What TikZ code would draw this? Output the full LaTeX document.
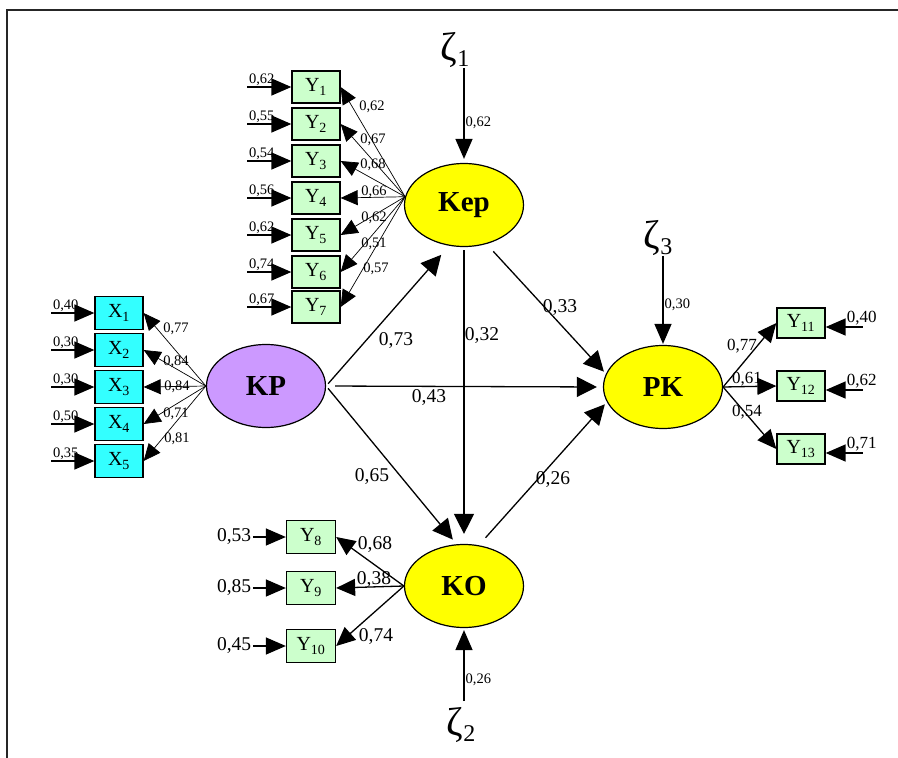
\documentclass[tikz,border=0pt]{standalone}
\usepackage{fontspec}
\setmainfont{Liberation Serif}
\usepackage{tikz}
\usetikzlibrary{arrows.meta,positioning,calc,shapes.geometric}
\definecolor{latyellow}{RGB}{255,255,0}
\definecolor{kplilac}{RGB}{204,153,255}
\definecolor{ygreen}{RGB}{204,255,204}
\definecolor{xcyan}{RGB}{51,255,255}

\begin{document}
\begin{tikzpicture}[x=1pt,y=-1pt,
  latent/.style={draw,ellipse,line width=1.2pt,minimum width=119pt,minimum height=83pt,
    inner sep=0pt,font=\fontsize{29}{30}\selectfont\bfseries},
  obs/.style={draw,line width=1.3pt,fill=ygreen,minimum width=48pt,minimum height=32pt,
    inner sep=0pt,font=\fontsize{20}{20}\selectfont},
  xobs/.style={obs,fill=xcyan,minimum height=33pt},
  slbl/.style={inner sep=1pt,font=\fontsize{14.5}{14.5}\selectfont},
  rlbl/.style={inner sep=1pt,font=\fontsize{17}{17}\selectfont},
  mlbl/.style={inner sep=1pt,font=\fontsize{19.5}{19.5}\selectfont},
  zeta/.style={inner sep=0pt,font=\fontsize{40}{40}\selectfont},
  errarr/.style={line width=1.4pt,-{Triangle[length=20pt,width=17pt]}},
  thinarr/.style={line width=0.7pt,-{Triangle[length=17pt,width=15pt]}},
  loadarr/.style={line width=1.3pt,-{Triangle[length=19pt,width=17pt]}},
  causal/.style={line width=1.3pt,-{Triangle[length=20pt,width=20pt]}}
]
  \useasboundingbox (0,0) rectangle (898,758);
  \draw[line width=1.5pt,black!85] (898,10) -- (7,10) -- (7,758);

  % latent variables
  \node[latent,fill=latyellow] (Kep) at (464,205) {Kep};
  \node[latent,fill=kplilac] (KP) at (266,386) {KP};
  \node[latent,fill=latyellow] (PK) at (663,387) {PK};
  \node[latent,fill=latyellow] (KO) at (464,586) {KO};

  % indicators of Kep
  \node[obs] (Y1) at (316,87) {Y\textsubscript{1}};
  \node[obs] (Y2) at (316,124) {Y\textsubscript{2}};
  \node[obs] (Y3) at (316,161) {Y\textsubscript{3}};
  \node[obs] (Y4) at (316,198) {Y\textsubscript{4}};
  \node[obs] (Y5) at (316,235) {Y\textsubscript{5}};
  \node[obs] (Y6) at (316,272) {Y\textsubscript{6}};
  \node[obs] (Y7) at (316,307) {Y\textsubscript{7}};
  \draw[errarr] (Y1.west) ++(-44,0) node[slbl,above right] (e1) {0,62} -- (Y1.west);
  \draw[errarr] (Y2.west) ++(-44,0) node[slbl,above right] (e2) {0,55} -- (Y2.west);
  \draw[errarr] (Y3.west) ++(-44,0) node[slbl,above right] (e3) {0,54} -- (Y3.west);
  \draw[errarr] (Y4.west) ++(-44,0) node[slbl,above right] (e4) {0,56} -- (Y4.west);
  \draw[errarr] (Y5.west) ++(-44,0) node[slbl,above right] (e5) {0,62} -- (Y5.west);
  \draw[errarr] (Y6.west) ++(-44,0) node[slbl,above right] (e6) {0,74} -- (Y6.west);
  \draw[errarr] (Y7.west) ++(-44,0) node[slbl,above right] (e7) {0,67} -- (Y7.west);
  \draw[thinarr] (Kep.172) -- (Y1.east);
  \draw[thinarr] (Kep.172) -- (Y2.east);
  \draw[thinarr] (Kep.172) -- (Y3.east);
  \draw[thinarr] (Kep.172) -- (Y4.east);
  \draw[thinarr] (Kep.172) -- (Y5.east);
  \draw[thinarr] (Kep.172) -- (Y6.east);
  \draw[thinarr] (Kep.172) -- (Y7.east);
  \node[slbl] (l1) at (372,107) {0,62};
  \node[slbl] (l2) at (373,140) {0,67};
  \node[slbl] (l3) at (373,165) {0,68};
  \node[slbl] (l4) at (374,192) {0,66};
  \node[slbl] (l5) at (374,218) {0,62};
  \node[slbl] (l6) at (374,244) {0,51};
  \node[slbl] (l7) at (376,269) {0,57};

  % indicators of KP
  \node[xobs] (X1) at (119,313) {X\textsubscript{1}};
  \node[xobs] (X2) at (119,350) {X\textsubscript{2}};
  \node[xobs] (X3) at (119,387) {X\textsubscript{3}};
  \node[xobs] (X4) at (119,424) {X\textsubscript{4}};
  \node[xobs] (X5) at (119,461) {X\textsubscript{5}};
  \draw[errarr] (X1.west) ++(-43,0) node[slbl,above right] (d1) {0,40} -- (X1.west);
  \draw[errarr] (X2.west) ++(-43,0) node[slbl,above right] (d2) {0,30} -- (X2.west);
  \draw[errarr] (X3.west) ++(-43,0) node[slbl,above right] (d3) {0,30} -- (X3.west);
  \draw[errarr] (X4.west) ++(-43,0) node[slbl,above right] (d4) {0,50} -- (X4.west);
  \draw[errarr] (X5.west) ++(-43,0) node[slbl,above right] (d5) {0,35} -- (X5.west);
  \draw[thinarr] (KP.west) -- (X1.east);
  \draw[thinarr] (KP.west) -- (X2.east);
  \draw[thinarr] (KP.west) -- (X3.east);
  \draw[thinarr] (KP.west) -- (X4.east);
  \draw[thinarr] (KP.west) -- (X5.east);
  \node[slbl] (k1) at (176,329) {0,77};
  \node[slbl] (k2) at (176,362) {0,84};
  \node[slbl] (k3) at (177,387) {0,84};
  \node[slbl] (k4) at (176,414) {0,71};
  \node[slbl] (k5) at (177,439) {0,81};

  % indicators of KO
  \node[obs,minimum width=49pt,minimum height=33pt] (Y8) at (311,537) {Y\textsubscript{8}};
  \node[obs,minimum width=49pt,minimum height=33pt] (Y9) at (311,588) {Y\textsubscript{9}};
  \node[obs,minimum width=49pt,minimum height=33pt] (Y10) at (311,646) {Y\textsubscript{10}};
  \draw[errarr] (Y8.west) ++(-33,0) node[mlbl,left] (o1) {0,53} -- (Y8.west);
  \draw[errarr] (Y9.west) ++(-33,0) node[mlbl,left] (o2) {0,85} -- (Y9.west);
  \draw[errarr] (Y10.west) ++(-33,0) node[mlbl,left] (o3) {0,45} -- (Y10.west);
  \draw[loadarr] (KO.west) -- (Y8.east);
  \draw[loadarr] (KO.west) -- (Y9.east);
  \draw[loadarr] (KO.west) -- (Y10.east);
  \node[mlbl] (m1) at (375,545) {0,68};
  \node[mlbl] (m2) at (374,580) {0,38};
  \node[mlbl] (m3) at (376,637) {0,74};

  % indicators of PK
  \node[obs,minimum height=30pt] (Y11) at (801,323) {Y\textsubscript{11}};
  \node[obs,minimum height=30pt] (Y12) at (801,386) {Y\textsubscript{12}};
  \node[obs,minimum height=30pt] (Y13) at (801,449) {Y\textsubscript{13}};
  \draw[errarr] (Y11.east) ++(37,4) node[rlbl,above,xshift=-1pt] (p1) {0,40} -- ([yshift=-4pt]Y11.east);
  \draw[errarr] (Y12.east) ++(37,4) node[rlbl,above,xshift=-1pt] (p2) {0,62} -- ([yshift=-4pt]Y12.east);
  \draw[errarr] (Y13.east) ++(37,4) node[rlbl,above,xshift=-1pt] (p3) {0,71} -- ([yshift=-4pt]Y13.east);
  \draw[loadarr] (PK.east) -- (Y11.west);
  \draw[loadarr] (PK.east) -- (Y12.west);
  \draw[loadarr] (PK.east) -- (Y13.west);
  \node[rlbl] (q1) at (742,346) {0,77};
  \node[rlbl] (q2) at (747,379) {0,61};
  \node[rlbl] (q3) at (747,412) {0,54};

  % structural paths
  \draw[causal,shorten <=3pt,shorten >=12pt] (KP.east) -- (Kep.250);
  \draw[causal,shorten <=9pt,shorten >=6pt] (KP.east) -- (PK.west);
  \draw[causal,shorten <=3pt,shorten >=6pt] (KP.east) -- (KO.100);
  \draw[causal,shorten <=10pt,shorten >=3pt] (Kep.300) -- (PK.167);
  \draw[causal,shorten <=3pt,shorten >=10pt] (Kep.south) -- (KO.north);
  \draw[causal,shorten <=10pt,shorten >=3pt] (KO.70) -- (PK.195);
  \node[mlbl] (s1) at (396,341) {0,73};
  \node[mlbl] (s2) at (429,398) {0,43};
  \node[mlbl] (s3) at (372,477) {0,65};
  \node[mlbl] (s4) at (560,308) {0,33};
  \node[mlbl] (s5) at (482,336) {0,32};
  \node[mlbl] (s6) at (553,480) {0,26};

  % disturbances
  \node[zeta] (z1) at (455,50) {ζ\raisebox{-6pt}{\fontsize{24}{24}\selectfont 1}};
  \node[zeta] (z2) at (461,725) {ζ\raisebox{-6pt}{\fontsize{24}{24}\selectfont 2}};
  \node[zeta] (z3) at (658,238) {ζ\raisebox{-6pt}{\fontsize{24}{24}\selectfont 3}};
  \draw[errarr,shorten >=4pt] (z1.south -| Kep) -- node[slbl,right,pos=0.58] (r1) {0,62} (Kep);
  \draw[errarr,shorten >=2pt,shorten <=6pt] (z2.north -| KO) -- node[slbl,right,pos=0.35] (r2) {0,26} (KO);
  \draw[errarr,shorten >=1pt] (z3.south -| PK) -- node[slbl,right,pos=0.55] (r3) {0,30} (PK);
\end{tikzpicture}
\end{document}
